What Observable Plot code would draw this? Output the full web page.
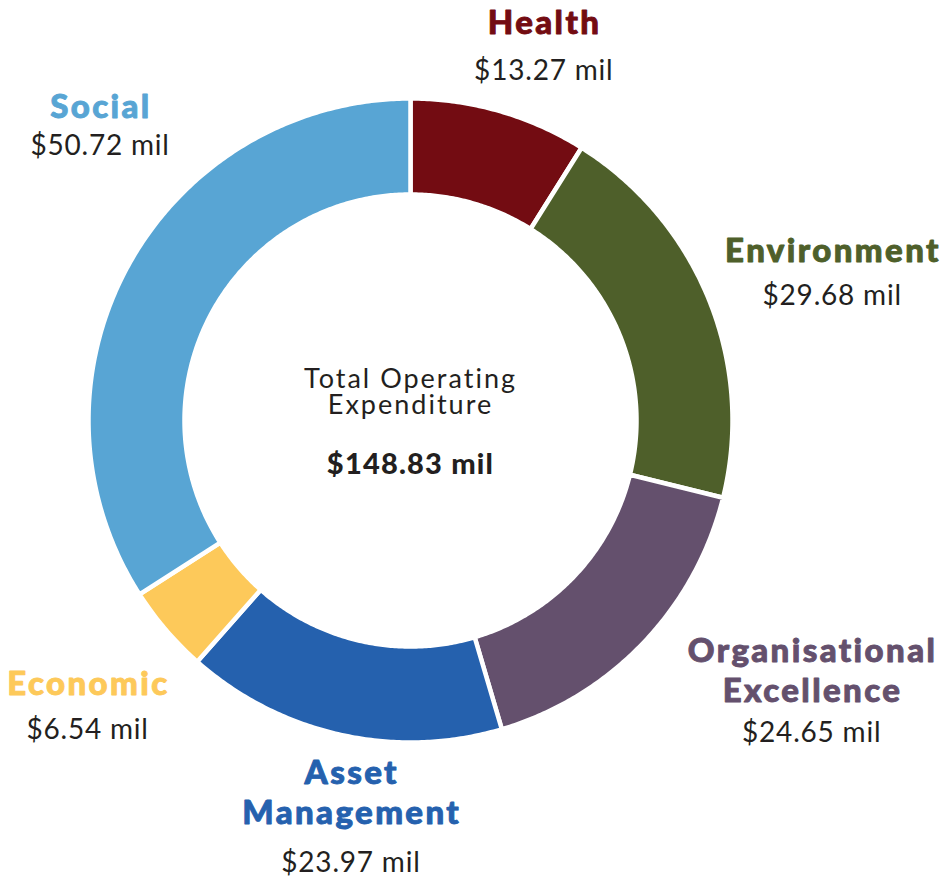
<!DOCTYPE html>
<html><head><meta charset="utf-8">
<script src="https://cdn.jsdelivr.net/npm/d3@7"></script>
<script src="https://cdn.jsdelivr.net/npm/@observablehq/plot@0.6"></script>
<style>
body{margin:0;background:#fff;}
#chart{width:948px;height:880px;}
#chart g[font-size="33"]{letter-spacing:2.4px;}
#chart g[font-size="28"]{letter-spacing:0.8px;}
#chart g[font-size="27"]{letter-spacing:2px;}
#chart g[font-size="29"]{letter-spacing:1.2px;}
</style>
</head><body><div id="chart"></div>
<script>
// ---- data ----
const categories = ["Health", "Environment", "Organisational Excellence", "Asset Management", "Economic", "Social"];
const titles = ["Health", "Environment", "Organisational\nExcellence", "Asset\nManagement", "Economic", "Social"];
const values = [13.27, 29.68, 24.65, 23.97, 6.54, 50.72];
const colors = ["#730c12", "#4e5f2a", "#64506d", "#2561ae", "#fdc95a", "#58a5d4"];
const centerTitle = "Total Operating\nExpenditure";

// ---- layout (label placement, polar: degrees clockwise from top, px from centre) ----
const labelAngle = [18.96, 69.43, 125.12, 188.45, 229.69, 314.26];
const labelRadius = [409, 450, 490, 408, 424, 434];
const valueGap = [46, 43, 40, 48, 44, 37];

const W = 948, H = 880, CX = 410, CY = 420, PX_PER_DEG = 4, R_OUT = 322, R_IN = 226;
const fmt = v => `$${v.toFixed(2)} mil`;
const total = d3.sum(values);
const toLonLat = (thetaDeg, rPx) => [180 - thetaDeg, 90 - rPx / PX_PER_DEG];

const arcs = d3.pie().sort(null).value(d => d)(values);
const features = arcs.map((a, i) => {
  const t0 = a.startAngle * 180 / Math.PI, t1 = a.endAngle * 180 / Math.PI;
  const n = Math.max(2, Math.ceil((t1 - t0) / 0.5));
  const ring = [];
  for (let j = 0; j <= n; j++) ring.push(toLonLat(t0 + (t1 - t0) * j / n, R_OUT));
  for (let j = n; j >= 0; j--) ring.push(toLonLat(t0 + (t1 - t0) * j / n, R_IN));
  ring.push(ring[0].slice());
  const f = {type: "Feature", properties: {category: categories[i]}, geometry: {type: "Polygon", coordinates: [ring]}};
  if (d3.geoArea(f) > 2 * Math.PI) ring.reverse();
  return f;
});

const projection = d3.geoAzimuthalEquidistant()
  .rotate([0, -90])
  .scale(PX_PER_DEG * 180 / Math.PI)
  .translate([CX, CY])
  .clipAngle(179);

const labelMarks = [];
categories.forEach((c, i) => {
  const [lon, lat] = toLonLat(labelAngle[i], labelRadius[i]);
  const d = [{lon, lat, title: titles[i], value: fmt(values[i]), category: c}];
  labelMarks.push(Plot.text(d, {
    x: "lon", y: "lat", text: "title", fill: colors[i], stroke: colors[i], strokeWidth: 0.9,
    fontSize: 33, fontWeight: 900, lineAnchor: "bottom", lineHeight: 1.22, dx: 1.2
  }));
  labelMarks.push(Plot.text(d, {
    x: "lon", y: "lat", text: "value", fill: "#231f20",
    fontSize: 28, fontWeight: 400, lineAnchor: "bottom", dy: valueGap[i], dx: 0.4
  }));
});

const centre = [{lon: 0, lat: 90}];
const chart = Plot.plot({
  width: W, height: H, margin: 0,
  projection,
  style: {fontFamily: "Lato, 'Noto Sans', sans-serif", background: "#fff"},
  color: {domain: categories, range: colors},
  marks: [
    Plot.geo(features, {fill: d => d.properties.category, stroke: "white", strokeWidth: 4.5}),
    Plot.text(centre, {x: "lon", y: "lat", text: () => centerTitle, fill: "#231f20",
      fontSize: 27, fontWeight: 400, lineAnchor: "bottom", lineHeight: 0.963, dy: -7, dx: 0}),
    Plot.text(centre, {x: "lon", y: "lat", text: () => fmt(total), fill: "#231f20",
      fontSize: 29, fontWeight: 900, lineAnchor: "bottom", dy: 53, dx: 0}),
    ...labelMarks
  ]
});
document.getElementById("chart").append(chart);
</script>
</body></html>
